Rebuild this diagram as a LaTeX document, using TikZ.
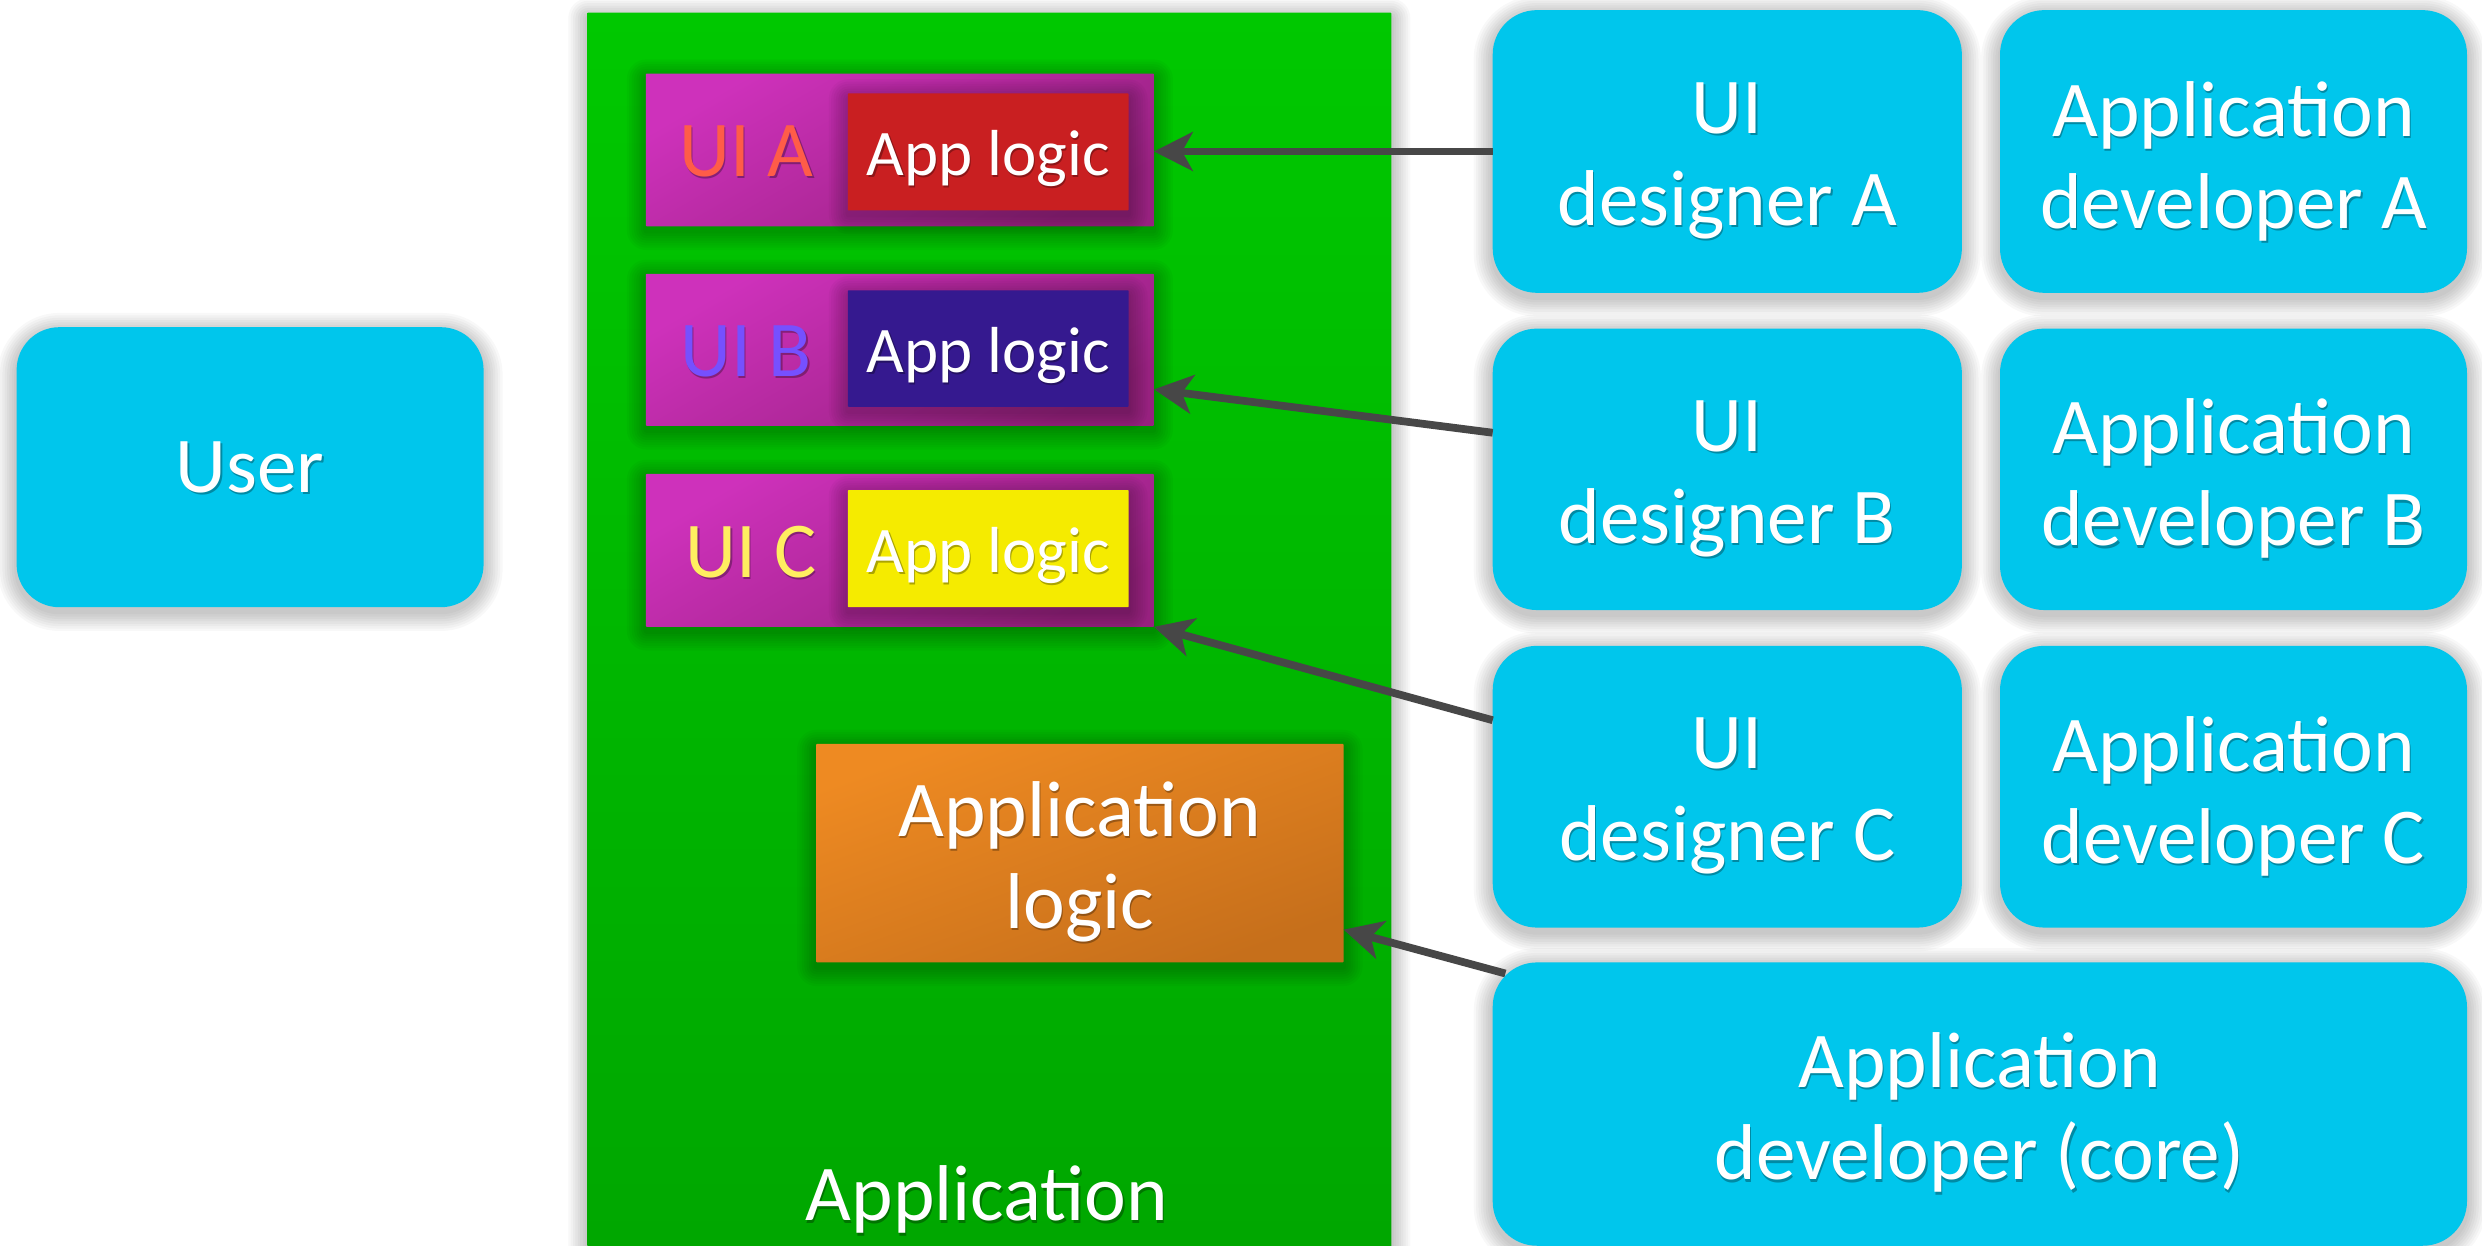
\documentclass[tikz,border=0pt]{standalone}
\usepackage{fontspec}
\setmainfont{Carlito}
\usetikzlibrary{arrows.meta,fit,calc}
\definecolor{greenTop}{HTML}{00C800}
\definecolor{greenBot}{HTML}{00A500}
\definecolor{magTop}{HTML}{CE31BB}
\definecolor{magBot}{HTML}{97217F}
\definecolor{logicRed}{HTML}{C91F21}
\definecolor{logicBlue}{HTML}{35198F}
\definecolor{logicYellow}{HTML}{F5EB00}
\definecolor{orTop}{HTML}{EE8A22}
\definecolor{orBot}{HTML}{C66F1B}
\definecolor{cyanBox}{HTML}{00C6EC}
\definecolor{uiAcol}{HTML}{FF5C48}
\definecolor{uiBcol}{HTML}{7650FF}
\definecolor{uiCcol}{HTML}{FFEE60}
\definecolor{arrowGray}{HTML}{474747}
\newcommand\sshadow[5]{%
  \foreach \k in {1,...,8}{%
    \fill[black,opacity=0.028,rounded corners={(#5+1.5*\k)*0.01583cm}]
      ({#1-1.5*\k},{#2-1.5*\k+3}) rectangle ({#3+1.5*\k},{#4+1.5*\k+3});
  }}
\newcommand\bx[7]{%
  \sshadow{#3}{#4}{#5}{#6}{#7}
  \node[#2, fit={(#3,#4)(#5,#6)}, inner sep=0pt, outer sep=0pt, rounded corners={#7*0.01583cm}] (#1) {};}
\newcommand\tx[5]{%
  \node[#4, tsh] (#1s) at ({#2+0.8},{#3+1.3}) {#5};
  \node[#4] (#1) at (#2,#3) {#5};}
\tikzset{
  big/.style={font=\fontsize{22.5}{26.2}\selectfont, text=white, align=center, inner sep=0pt},
  small/.style={font=\fontsize{18.5}{22}\selectfont, text=white, inner sep=0pt},
  tsh/.style={text=black, text opacity=0.3},
  cyanfill/.style={fill=cyanBox},
  greenfill/.style={top color=greenTop, bottom color=greenBot},
  magfill/.style={top color=magTop, bottom color=magBot, shading angle=30},
  orfill/.style={top color=orTop, bottom color=orBot, shading angle=20},
  conn/.style={draw=arrowGray, line width=2.2pt, -{Stealth[length=11pt,width=11pt,inset=3pt]}}
}
\begin{document}
\begin{tikzpicture}[x=0.01583cm, y=-0.01583cm]
\useasboundingbox (0,0) rectangle (1568,787);
\fill[white] (0,0) rectangle (1568,787);
% user
\bx{user}{cyanfill}{10.5}{206.7}{305.5}{383.6}{27}
\tx{usert}{158}{295}{big}{User}
% application container
\bx{app}{greenfill}{371}{8}{879}{830}{0.5}
\tx{appt}{623.5}{758}{big}{Application}
% UI boxes
\bx{uiA}{magfill}{408}{46.5}{729}{143}{0.5}
\bx{uiB}{magfill}{408}{173}{729}{269}{0.5}
\bx{uiC}{magfill}{408}{299.4}{729}{396}{0.5}
\tx{uiAt}{471.6}{95.7}{big, text=uiAcol}{UI A}
\tx{uiBt}{471.4}{222}{big, text=uiBcol}{UI B}
\tx{uiCt}{474.6}{348.7}{big, text=uiCcol}{UI C}
\bx{lgA}{fill=logicRed}{535.6}{59}{713}{132.9}{0.5}
\bx{lgB}{fill=logicBlue}{535.6}{183.4}{713}{257}{0.5}
\bx{lgC}{fill=logicYellow}{535.6}{309.6}{713}{383.6}{0.5}
\tx{lgAt}{624.4}{100.4}{small}{App logic}
\tx{lgBt}{624.4}{224.6}{small}{App logic}
\tx{lgCt}{624.4}{351}{small}{App logic}
% application logic
\bx{alog}{orfill}{515.6}{470}{848.8}{608}{0.5}
\tx{alogt}{682.2}{544.4}{big}{Application\\logic}
% people
\bx{udA}{cyanfill}{943}{6.4}{1239.4}{185}{28}
\bx{adA}{cyanfill}{1263.5}{6.4}{1558.5}{185}{28}
\bx{udB}{cyanfill}{943}{207.6}{1239.4}{385.4}{28}
\bx{adB}{cyanfill}{1263.5}{207.6}{1558.5}{385.4}{28}
\bx{udC}{cyanfill}{943}{408}{1239.4}{586}{28}
\bx{adC}{cyanfill}{1263.5}{408}{1558.5}{586}{28}
\bx{core}{cyanfill}{943}{608}{1558.5}{787}{28}
\tx{udAt}{1091.2}{101.7}{big}{UI\\designer A}
\tx{adAt}{1411}{101.7}{big}{Application\\developer A}
\tx{udBt}{1091.2}{302.5}{big}{UI\\designer B}
\tx{adBt}{1411}{302.5}{big}{Application\\developer B}
\tx{udCt}{1091.2}{503}{big}{UI\\designer C}
\tx{adCt}{1411}{503}{big}{Application\\developer C}
\tx{coret}{1250.5}{703}{big}{Application\\developer (core)}
% connectors
\draw[conn] (udA.west) -- (udA.west -| uiA.east);
\draw[conn] ($(udB.north west)!0.37!(udB.south west)$) -- ($(uiB.north east)!0.76!(uiB.south east)$);
\draw[conn] ($(udC.north west)!0.264!(udC.south west)$) -- (uiC.south east);
\draw[conn] ($(core.north west)+(8,7)$) -- ($(alog.north east)!0.85!(alog.south east)$);
\end{tikzpicture}
\end{document}
